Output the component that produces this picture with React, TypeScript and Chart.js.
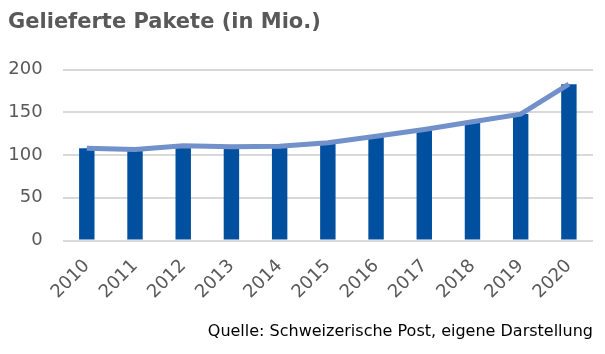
import React, { useEffect, useRef } from "react";
import { Chart, registerables } from "chart.js";

Chart.register(...registerables);

const years = ["2010", "2011", "2012", "2013", "2014", "2015", "2016", "2017", "2018", "2019", "2020"];
const parcels = [108, 106.5, 111, 109.8, 110.5, 114.5, 122, 130, 139, 148, 183];
const trend = [108, 106.5, 111, 109.8, 110.5, 114.5, 122, 130, 139, 148, 183];
const yTicks = [0, 50, 100, 150, 200];
const titleText = "Gelieferte Pakete (in Mio.)";
const sourceText = "Quelle: Schweizerische Post, eigene Darstellung";

export default function App() {
  const ref = useRef<HTMLCanvasElement | null>(null);
  useEffect(() => {
    if (!ref.current) return;
    const chart = new Chart(ref.current, {
      type: "bar",
      data: {
        labels: years,
        datasets: [
          {
            type: "line",
            data: trend,
            borderColor: "#7291CB",
            borderWidth: 5,
            pointRadius: 0,
            tension: 0,
            order: 0,
          } as any,
          {
            type: "bar",
            data: parcels,
            backgroundColor: "#00509F",
            categoryPercentage: 1,
            barPercentage: 0.32,
            order: 1,
          },
        ],
      },
      options: {
        animation: false,
        responsive: false,
        maintainAspectRatio: false,
        layout: { padding: { left: 8, right: 12, top: 0, bottom: 0 } },
        plugins: {
          legend: { display: false },
          tooltip: { enabled: false },
          title: {
            display: true,
            text: titleText,
            align: "start",
            color: "#595959",
            font: { family: "DejaVu Sans", size: 21, weight: "bold" },
            padding: { top: 10, bottom: 34.5 },
          },
          subtitle: {
            display: true,
            text: sourceText,
            position: "bottom",
            align: "end",
            color: "#000000",
            font: { family: "DejaVu Sans", size: 16, weight: "normal" },
            padding: { top: 0, bottom: 13 },
          },
        },
        scales: {
          x: {
            grid: { display: false, drawTicks: false },
            border: { display: false },
            ticks: {
              color: "#595959",
              font: { family: "DejaVu Sans", size: 18 },
              minRotation: 45,
              maxRotation: 45,
              padding: 15,
            },
            afterFit: (s: any) => {
              s.height = 81.3;
              s.paddingLeft = 0;
              s.paddingRight = 0;
            },
          },
          y: {
            min: 0,
            max: 200,
            afterBuildTicks: (s: any) => {
              s.ticks = yTicks.map((v) => ({ value: v }));
            },
            afterFit: (s: any) => {
              s.width = 54.7;
            },
            grid: { color: "#D9D9D9", lineWidth: 2, drawTicks: false },
            border: { display: false },
            ticks: {
              color: "#595959",
              font: { family: "DejaVu Sans", size: 18 },
              padding: 20,
            },
          },
        },
      },
    });
    return () => chart.destroy();
  }, []);
  return (
    <div style={{ position: "fixed", left: 0, top: 0, width: 605, height: 354, background: "#fff" }}>
      <canvas ref={ref} width={605} height={354} style={{ width: 605, height: 354 }} />
    </div>
  );
}
